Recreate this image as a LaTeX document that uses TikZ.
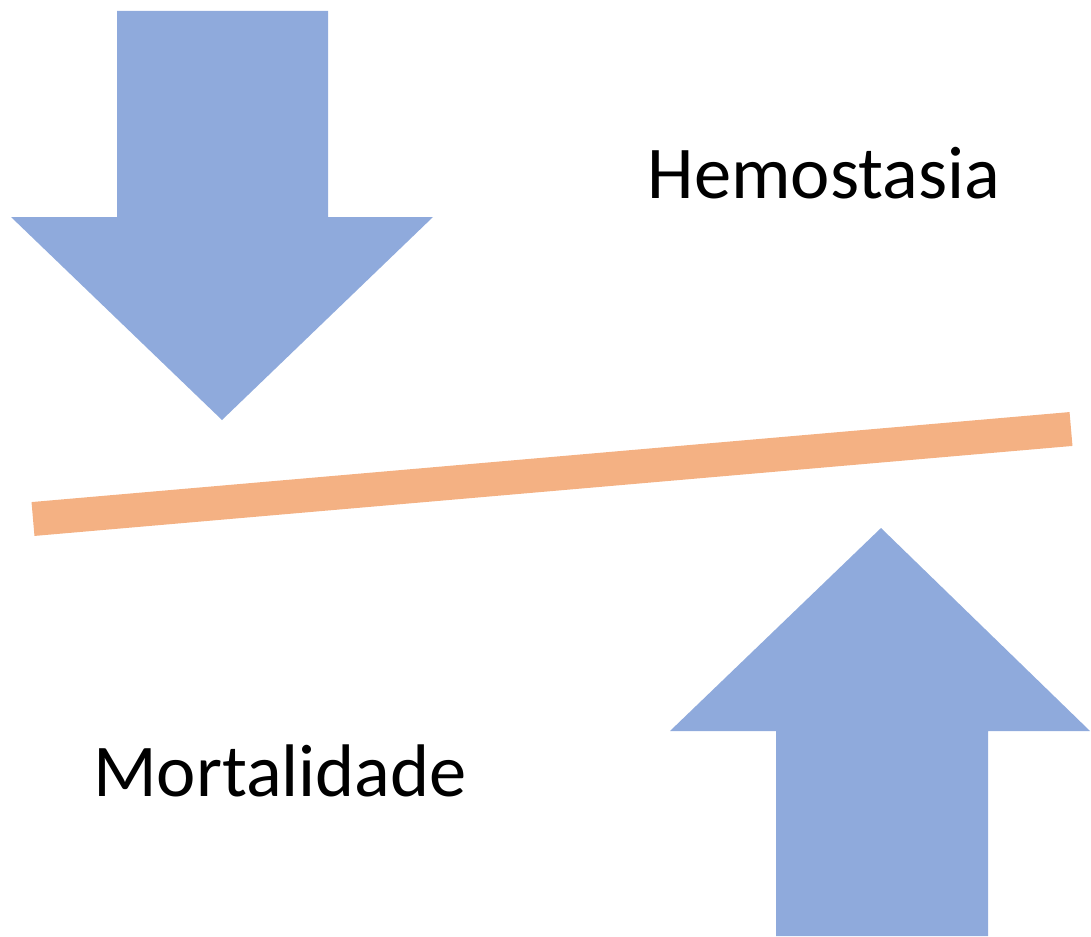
\documentclass[tikz,border=0pt]{standalone}
\usepackage{fontspec}
\setmainfont{Carlito}
\usepackage{xcolor}
\usetikzlibrary{positioning, calc}
\definecolor{arrowblue}{HTML}{8FAADC}
\definecolor{beamorange}{HTML}{F4B183}
\tikzset{biglabel/.style={font=\fontsize{42.4}{42.4}\selectfont, inner sep=0pt}}
\begin{document}
\begin{tikzpicture}[x=0.02cm, y=-0.02cm]
  \useasboundingbox (0,0) rectangle (1091,936);

  % Downward block arrow
  \fill[arrowblue] (117,11) -- (328,11) -- (328,217) -- (433,217) -- (222,420)
    -- (11,217) -- (117,217) -- cycle;

  % Upward block arrow
  \fill[arrowblue] (881,528) -- (1090,731) -- (988,731) -- (988,936) -- (776,936)
    -- (776,731) -- (670,731) -- cycle;

  % Tilted beam
  \coordinate (beamleft) at (33,519);
  \coordinate (beamright) at (1071,429);
  \draw[beamorange, line width=0.68cm] (beamleft) -- (beamright);

  % Labels
  \node[biglabel] (hemo) at (824,173) {Hemostasia};
  \node[biglabel] (mort) at (280,771) {Mortalidade};
\end{tikzpicture}
\end{document}
